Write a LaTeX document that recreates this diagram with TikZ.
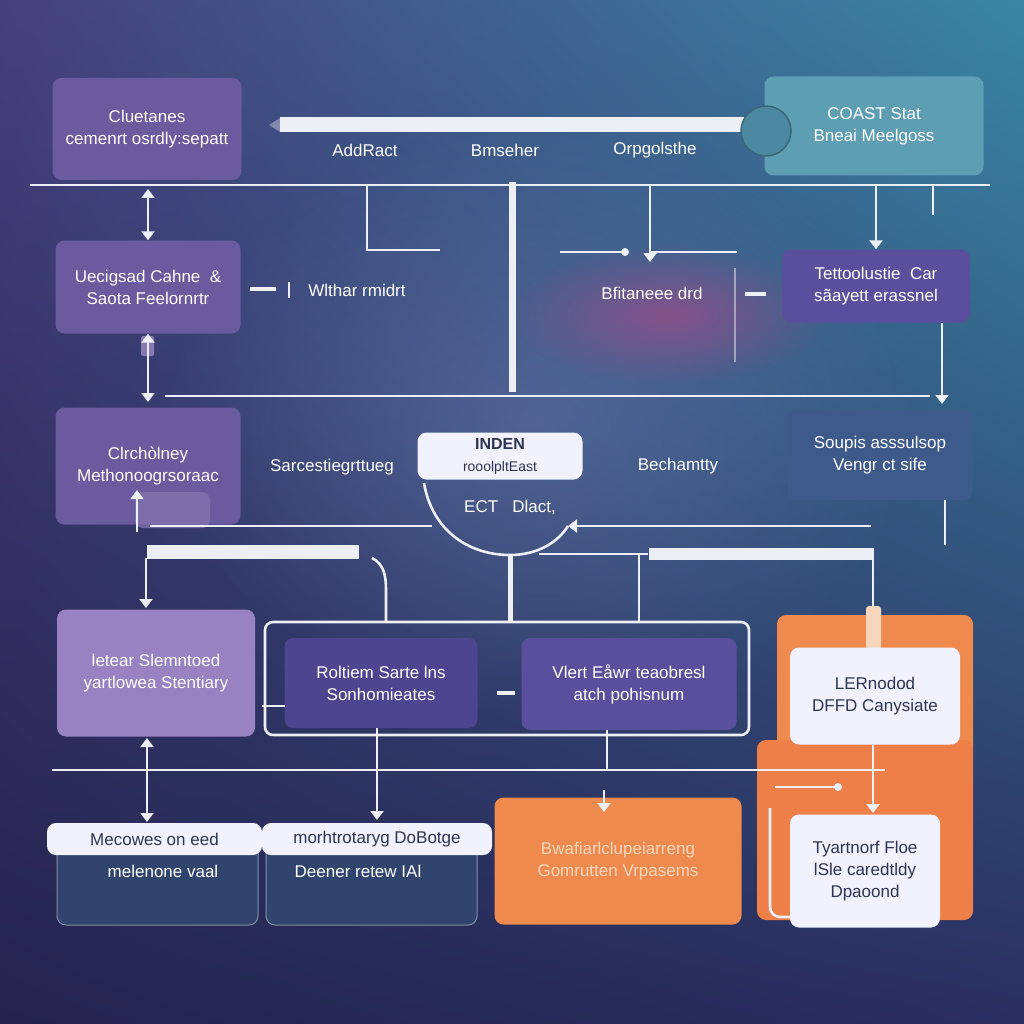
\documentclass[tikz,border=0pt]{standalone}
\usepackage{fontspec}
\setmainfont{Liberation Sans}
\usetikzlibrary{arrows.meta,fadings,shadings}

\definecolor{bgtl}{HTML}{463F7E}
\definecolor{bgtr}{HTML}{3A86A4}
\definecolor{bgbl}{HTML}{23234D}
\definecolor{bgbr}{HTML}{2B2E60}
\definecolor{glowpink}{HTML}{9A4C88}
\definecolor{glowblue}{HTML}{7888BC}
\definecolor{purpA}{HTML}{6A5A9E}
\definecolor{purpL}{HTML}{9882C2}
\definecolor{purpD}{HTML}{4E4590}
\definecolor{purpM}{HTML}{5A4F9C}
\definecolor{tealbox}{HTML}{5E9EB3}
\definecolor{tealknob}{HTML}{4C89A0}
\definecolor{bluebox}{HTML}{3E5A8B}
\definecolor{navybox}{HTML}{31446D}
\definecolor{orangeA}{HTML}{EE8A4E}
\definecolor{orangeT}{HTML}{F6D6BC}
\definecolor{darktext}{HTML}{2E3552}
\definecolor{wirec}{HTML}{ECEFF6}

\tikzfading[name=glow, inner color=transparent!0, outer color=transparent!100]

\begin{document}
\begin{tikzpicture}[x=1pt,y=-1pt]
  \tikzstyle{box}=[rectangle, rounded corners=9pt, inner sep=0pt, align=center, text=white, font=\fontsize{17}{22}\selectfont]
  \tikzstyle{wbox}=[box, fill=white!95!blue, text=darktext]
  \tikzstyle{lbl}=[inner sep=0pt, text=white, font=\fontsize{17}{22}\selectfont]
  \tikzstyle{bar}=[rectangle, fill=wirec, inner sep=0pt]
  \tikzstyle{wire}=[line width=2.6pt, wirec]
  \tikzstyle{thinwire}=[line width=1.6pt, wirec]
  \tikzstyle{arr}=[-{Triangle[width=13pt,length=9pt]}]
  \tikzstyle{darr}=[{Triangle[width=13pt,length=9pt]}-{Triangle[width=13pt,length=9pt]}]

  % background
  \useasboundingbox (0,0) rectangle (1024,1024);
  \shade[upper left=bgtl, upper right=bgtr, lower left=bgbl, lower right=bgbr] (0,0) rectangle (1024,1024);
  \fill[glowblue, opacity=0.4, path fading=glow] (540,420) ellipse (380 and 300);
  \fill[glowpink, opacity=0.75, path fading=glow] (670,315) ellipse (160 and 70);

  % first row
  \node[box, fill=purpA, minimum width=189pt, minimum height=102pt] (clue) at (147,129) {Cluetanes\\cemenrt osrdly:sepatt};
  \node[bar, minimum width=468pt, minimum height=15pt] (topbar) at (514,125) {};
  \fill[white, opacity=0.35] (269,125) -- (280,118) -- (280,132) -- cycle;
  \node[box, fill=tealbox, minimum width=219pt, minimum height=99pt] (coast) at (874,126) {COAST Stat\\Bneai Meelgoss};
  \node[circle, fill=tealknob, draw=tealknob!75!black, line width=1.5pt, minimum size=50pt, inner sep=0pt] (knob) at (766,131) {};
  \node[lbl] (addr) at (365,150) {AddRact};
  \node[lbl] (bmse) at (505,150) {Bmseher};
  \node[lbl] (orpg) at (655,150) {Orpgolsthe};

  % top rail
  \coordinate (railL) at (30,185);
  \coordinate (railR) at (990,185);
  \draw[wire] (railL) -- (railR);

  % second row
  \node[box, fill=purpA, minimum width=185pt, minimum height=93pt] (ueci) at (148,287) {Uecigsad Cahne \ \&\\Saota Feelornrtr};
  \node[box, fill=purpM, minimum width=188pt, minimum height=73pt] (tett) at (876,286) {Tettoolustie \ Car\\sãayett erassnel};
  \node[lbl] (wlth) at (357,290) {Wlthar rmidrt};
  \node[lbl] (bfit) at (652,293) {Bfitaneee drd};

  % drops from the top rail
  \coordinate (d1) at (148,189);
  \coordinate (d2a) at (367,185);
  \coordinate (d2b) at (367,250);
  \coordinate (d2c) at (440,250);
  \coordinate (d3a) at (512,182);
  \coordinate (d3b) at (512,392);
  \coordinate (d4a) at (650,185);
  \coordinate (d4b) at (650,262);
  \coordinate (d5) at (876,185);
  \coordinate (d6a) at (933,185);
  \coordinate (d6b) at (933,215);
  \draw[wire, darr] (d1) -- (ueci.north);
  \draw[wire] (d2a) -- (d2b) -- (d2c);
  \draw[line width=7pt, wirec] (d3a) -- (d3b);
  \draw[wire, arr] (d4a) -- (d4b);
  \draw[thinwire] (560,252) -- (625,252);
  \fill[wirec] (625,252) circle (4);
  \draw[thinwire] (650,252) -- (737,252);
  \draw[wire, arr] (d5) -- (tett.north);
  \draw[wire] (d6a) -- (d6b);

  % small dashes
  \draw[line width=3.5pt, wirec] (250,289) -- (276,289);
  \draw[thinwire] (289,282) -- (289,298);
  \draw[line width=3.5pt, wirec] (745,294) -- (766,294);
  \draw[thinwire, opacity=0.5] (735,268) -- (735,362);

  % middle rail
  \coordinate (m1) at (148,402);
  \coordinate (m2) at (942,323);
  \coordinate (m3) at (942,404);
  \fill[purpA!80!white, rounded corners=2pt] (141,336) rectangle (154,356);
  \draw[wire, darr] (ueci.south) -- (m1);
  \draw[thinwire, arr] (m2) -- (m3);
  \draw[thinwire] (165,396) -- (930,396);

  % third row
  \node[box, fill=purpA, minimum width=185pt, minimum height=117pt] (clrc) at (148,466) {Clrchòlney\\Methonoogrsoraac};
  \fill[purpA!85!white, opacity=0.8, rounded corners=8pt] (135,492) rectangle (210,528);
  \node[wbox, minimum width=165pt, minimum height=47pt] (inden) at (500,456) {\fontsize{16}{18}\selectfont\textbf{INDEN}\\\fontsize{14}{18}\selectfont rooolpltEast};
  \node[lbl] (sarc) at (332,467) {Sarcestiegrttueg};
  \node[lbl] (bech) at (678,466) {Bechamtty};
  \node[lbl] (ect) at (510,507) {ECT \ \ Dlact,};
  \node[box, fill=bluebox, minimum width=185pt, minimum height=90pt] (soup) at (880,455) {Soupis asssulsop\\Vengr ct sife};

  % the bowl under INDEN
  \coordinate (arcL) at (424,483);
  \coordinate (arcB) at (510,555);
  \coordinate (arcR) at (568,526);
  \draw[wire] (arcL) .. controls (432,530) and (468,555) .. (arcB) .. controls (538,555) and (558,542) .. (arcR);
  \draw[thinwire, arr] (137,532) -- (137,490);
  \draw[wire] (150,526) -- (432,526);
  \draw[wire, arr] (871,526) -- (arcR);
  \draw[thinwire] (945,500) -- (945,545);

  % bars and drops to the fourth row
  \node[bar, minimum width=212pt, minimum height=14pt] (lbar) at (253,552) {};
  \node[bar, minimum width=225pt, minimum height=12pt] (rbar) at (761,554) {};
  \draw[wire] (539,554) -- (rbar.west);
  \draw[wire, arr] (146,558) -- (146,608);
  \draw[wire] (372,558) .. controls (384,564) and (386,576) .. (386,590) -- (386,622);
  \draw[line width=5pt, wirec] (arcB) -- (510,622);
  \draw[wire] (639,553) -- (639,622);
  \draw[wire] (873,553) -- (873,612);

  % frame of the fourth row
  \draw[wire, rounded corners=8pt] (265,622) rectangle (749,735);

  % fourth row
  \node[box, fill=purpL, minimum width=198pt, minimum height=127pt] (lete) at (156,673) {letear Slemntoed\\yartlowea Stentiary};
  \node[box, fill=purpD, minimum width=193pt, minimum height=90pt] (rolt) at (381,683) {Roltiem Sarte lns\\Sonhomieates};
  \node[box, fill=purpM, minimum width=215pt, minimum height=92pt] (vler) at (629,684) {Vlert Eåwr teaobresl\\atch pohisnum};
  \draw[wire] (262,706) -- (285,706);
  \draw[line width=3.5pt, wirec] (497,693) -- (515,693);

  % orange panels
  \fill[orangeA, rounded corners=9pt] (777,615) rectangle (973,757);
  \fill[orangeA!92!red, rounded corners=9pt] (757,740) rectangle (973,920);
  \draw[wire, rounded corners=10pt] (770,808) -- (770,917) -- (800,917);
  \fill[orangeT, rounded corners=3pt] (866,606) rectangle (881,650);
  \node[wbox, minimum width=170pt, minimum height=97pt] (lern) at (875,696) {LERnodod\\DFFD Canysiate};
  \node[wbox, minimum width=150pt, minimum height=113pt] (tyar) at (865,871) {Tyartnorf Floe\\lSle caredtldy\\Dpaoond};
  \draw[wire, arr] (873,745) -- (873,813);
  \draw[thinwire] (775,787) -- (838,787);
  \fill[wirec] (838,787) circle (4);

  % lower rail
  \coordinate (g1) at (147,770);
  \coordinate (g2) at (147,738);
  \coordinate (g3) at (147,822);
  \draw[wire] (52,770) -- (885,770);
  \draw[wire, arr] (g1) -- (g2);
  \draw[wire, arr] (g1) -- (g3);
  \draw[wire, arr] (377,728) -- (377,820);
  \draw[wire] (607,730) -- (607,770);

  % fifth row
  \node[box, fill=navybox, draw=navybox!60!white, line width=1pt, minimum width=201pt, minimum height=85pt] (melb) at (157.5,882.5) {};
  \node[box, fill=navybox, draw=navybox!60!white, line width=1pt, minimum width=211pt, minimum height=85pt] (deeb) at (371.5,882.5) {};
  \node[wbox, minimum width=215pt, minimum height=32pt] (meco) at (154.5,839) {Mecowes on eed};
  \node[wbox, minimum width=230pt, minimum height=32pt] (morh) at (377,839) {morhtrotaryg DoBotge};
  \node[lbl] (mele) at (163,871) {melenone vaal};
  \node[lbl] (deen) at (358,871) {Deener retew IAl};
  \node[box, fill=orangeA, minimum width=247pt, minimum height=127pt, text=orangeT] (bwaf) at (618,861) {Bwafiarlclupeiarreng\\Gomrutten Vrpasems};
  \draw[wire, arr] (604,790) -- (604,812);
\end{tikzpicture}
\end{document}
